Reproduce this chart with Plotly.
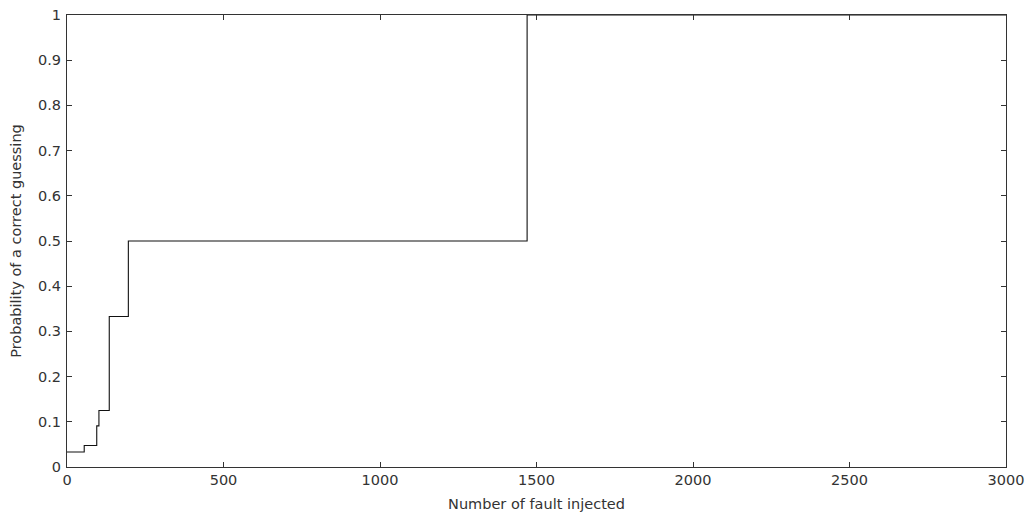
import plotly.graph_objects as go

faults = [0, 55, 95, 102, 135, 196, 1470, 3000]
prob = [0.0333, 0.0476, 0.0909, 0.125, 0.333, 0.5, 1.0, 1.0]

x_ticks = [0, 500, 1000, 1500, 2000, 2500, 3000]
y_ticks = [0, 0.1, 0.2, 0.3, 0.4, 0.5, 0.6, 0.7, 0.8, 0.9, 1]
y_labels = ["0", "0.1", "0.2", "0.3", "0.4", "0.5", "0.6", "0.7", "0.8", "0.9", "1"]

FONT = dict(family="DejaVu Sans", size=14.5, color="#333333")

fig = go.Figure()
fig.add_trace(go.Scatter(x=faults, y=prob, mode="lines", line_shape="hv",
                         line=dict(color="#111111", width=1.1), showlegend=False))

axis_common = dict(showgrid=False, zeroline=False, showline=True, linecolor="#333333",
                   linewidth=1, mirror="ticks", ticks="inside", ticklen=5,
                   tickcolor="#333333", tickfont=FONT, automargin=False)

fig.update_xaxes(range=[0, 3000], tickvals=x_ticks, ticktext=[str(v) for v in x_ticks],
                 title=dict(text="Number of fault injected", standoff=11, font=FONT),
                 **axis_common)
fig.update_yaxes(range=[0, 1], tickvals=y_ticks, ticktext=y_labels, ticklabelstandoff=2,
                 title=dict(text="Probability of a correct guessing", standoff=12, font=FONT),
                 **axis_common)

fig.update_layout(width=1029, height=518, margin=dict(l=67, r=23, t=15, b=51),
                  plot_bgcolor="white", paper_bgcolor="white")

fig.write_html("out.html", config={"displayModeBar": False},
               post_script="document.body.style.margin='0px';")
